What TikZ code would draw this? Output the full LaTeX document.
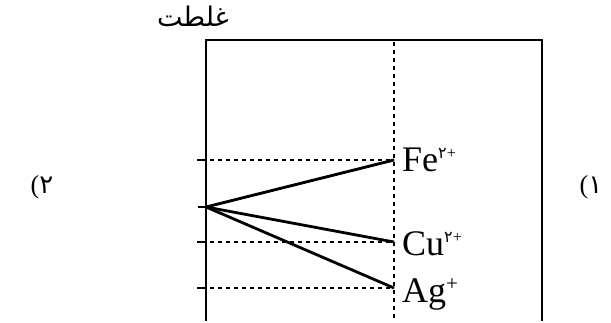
\documentclass[tikz,border=0pt]{standalone}
\usepackage{fontspec}
\setmainfont{Liberation Serif}
\newfontfamily\arabicfont[Script=Arabic]{DejaVu Sans}
\TeXXeTstate=1
\newcommand{\pdig}[1]{{\arabicfont #1}}
\begin{document}
\begin{tikzpicture}[x=1pt,y=-1pt,
  frame/.style={line width=2.6pt},
  dashln/.style={line width=2.4pt,dash pattern=on 4pt off 4pt},
  ray/.style={line width=2.8pt},
  ion/.style={anchor=base west,inner sep=0pt,font=\fontsize{36}{38}\selectfont},
  side/.style={inner sep=0pt,font=\fontsize{26}{28}\selectfont}]
\useasboundingbox (0,0) rectangle (611,323);
% frame
\coordinate (bl) at (206,321);
\coordinate (tl) at (206,40);
\coordinate (tr) at (542,40);
\coordinate (br) at (542,321);
\draw[frame] (bl) -- (tl) -- (tr) -- (br);
% vertical dashed line
\coordinate (vt) at (394,42);
\coordinate (vb) at (394,321);
\draw[dashln] (vt) -- (vb);
% levels
\coordinate (fe) at (394,160);
\coordinate (cu) at (394,242);
\coordinate (ag) at (394,288);
\coordinate (feL) at (197,160);
\coordinate (cuL) at (197,242);
\coordinate (agL) at (197,288);
\coordinate (feT) at (207,160);
\coordinate (cuT) at (207,242);
\coordinate (agT) at (207,288);
\foreach \a/\b in {feL/feT,cuL/cuT,agL/agT}{\draw[line width=2.4pt] (\a) -- (\b);}
\foreach \a/\b in {feT/fe,cuT/cu,agT/ag}{\draw[dashln] ([xshift=3pt]\a) -- (\b);}
% origin and rays
\coordinate (o0) at (198,207);
\coordinate (o) at (206,207);
\draw[line width=2.6pt] (o0) -- (o);
\draw[ray] (o) -- (fe);
\draw[ray] (o) -- (cu);
\draw[ray] (o) -- (ag);
% labels
\node[ion] (feN) at (402,172) {Fe\raisebox{13pt}{\fontsize{16}{16}\selectfont\pdig{۲}+}};
\node[ion] (cuN) at (402,256) {Cu\raisebox{13pt}{\fontsize{16}{16}\selectfont\pdig{۲}+}};
\node[ion] (agN) at (402,303) {Ag\raisebox{13pt}{\fontsize{21}{21}\selectfont +}};
\node[inner sep=0pt,font=\arabicfont\fontsize{27}{30}\selectfont] (title) at (193,16) {\beginR غلطت\endR};
\node[side] (one) at (591,187) {(\pdig{۱}};
\node[side] (two) at (42,187) {(\pdig{۲}};
\end{tikzpicture}
\end{document}
